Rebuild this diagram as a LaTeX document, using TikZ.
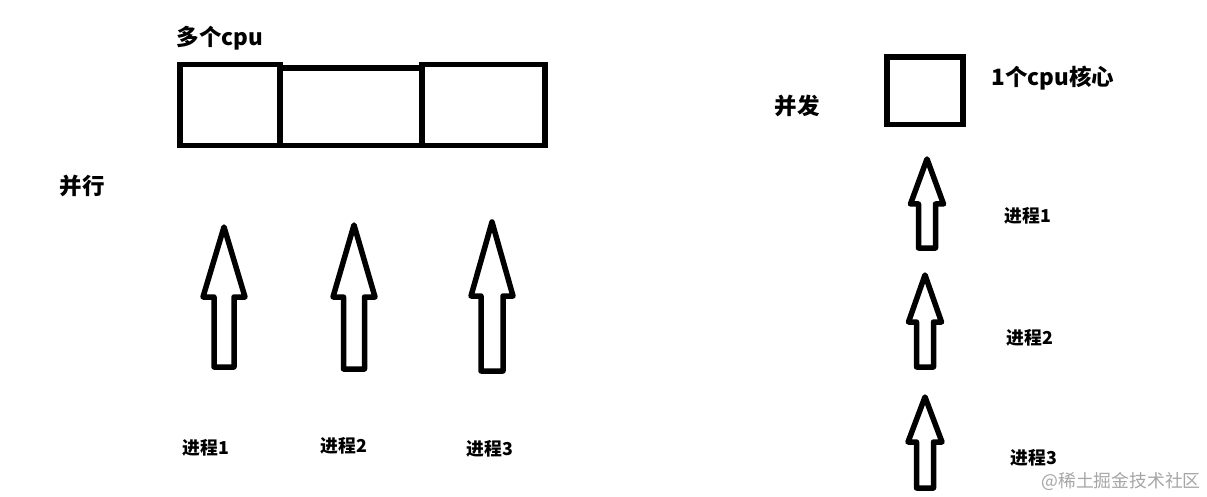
\documentclass[tikz,border=0pt]{standalone}
\usepackage{fontspec}
\setmainfont{Noto Sans CJK SC}
\newcommand{\procarrow}[6]{% cx, tip y, head base y, head half width, shaft half width, bottom y
  \draw[arrowshape] (#1,#2) -- (#1+#4,#3) -- (#1+#5,#3) -- (#1+#5,#6) -- (#1-#5,#6) -- (#1-#5,#3) -- (#1-#4,#3) -- cycle;}
\begin{document}
\begin{tikzpicture}[x=1pt,y=-1pt,
  cell/.style={draw=black,line width=5.5pt},
  arrowshape/.style={draw=black,line width=5.5pt,line join=round,fill=white},
  big/.style={font=\fontsize{22.5}{24}\selectfont\bfseries,inner sep=0pt},
  small/.style={font=\fontsize{17.8}{19}\selectfont\bfseries,inner sep=0pt},
  wmark/.style={font=\fontsize{17.8}{19}\selectfont,text=black!35,inner sep=0pt}]
\useasboundingbox[fill=white] (0,0) rectangle (1207,497);
% parallel
\node[big] (multicpu) at (220,38) {多个cpu};
\draw[cell] (180,64.5) rectangle (280,145.5);
\draw[cell] (280,68) rectangle (422,145.5);
\draw[cell] (422,64.5) rectangle (545,145.5);
\node[big] (parallel) at (82,186) {并行};
\procarrow{224}{227}{297}{21}{10}{367}
\procarrow{354}{225}{297}{21}{10.5}{369}
\procarrow{492}{222}{296}{21}{11}{371}
\node[small] (pl1) at (206,448) {进程1};
\node[small] (pl2) at (344,446) {进程2};
\node[small] (pl3) at (490,449) {进程3};
% concurrent
\node[big] (concurrent) at (797,106) {并发};
\draw[cell] (887,57) rectangle (963,124.5);
\node[big] (onecpu) at (1053,78) {1个cpu核心};
\procarrow{927}{159}{204}{16.5}{8.5}{248}
\procarrow{925}{275}{322}{16.5}{8.5}{367}
\procarrow{925}{397}{442}{17}{8.5}{488}
\node[small] (pr1) at (1028,216) {进程1};
\node[small] (pr2) at (1030,338) {进程2};
\node[small] (pr3) at (1034,458) {进程3};
\node[wmark] (wm) at (1121,481) {@稀土掘金技术社区};
\end{tikzpicture}
\end{document}
